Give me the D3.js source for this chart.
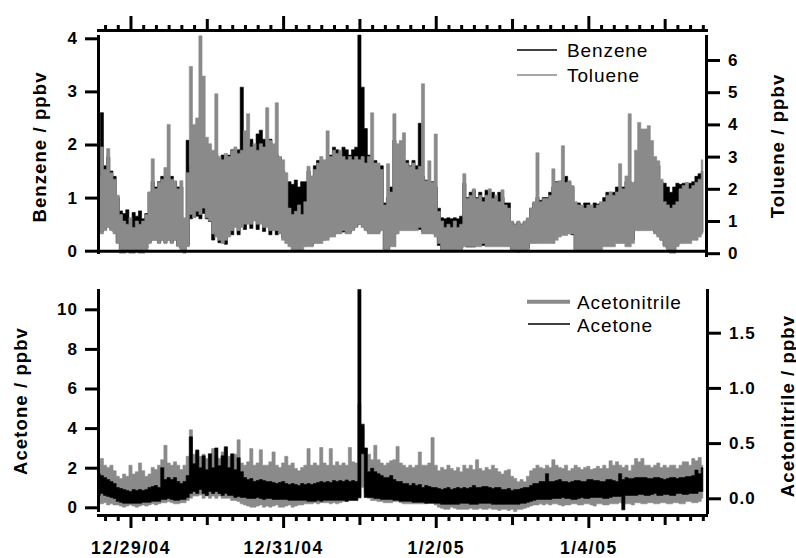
<!DOCTYPE html>
<html>
<head>
<meta charset="utf-8">
<title>Benzene, toluene, acetone and acetonitrile</title>
<script src="https://cdn.jsdelivr.net/npm/d3@7/dist/d3.min.js"></script>
<style>
  html, body { margin: 0; padding: 0; background: #fff; }
  svg { display: block; }
  .tick text, .lbl { font-family: "Liberation Sans", Arial, Helvetica, sans-serif; fill: #000; }
  .num { font-size: 17px; font-weight: bold; letter-spacing: 1px; }
  .date { font-size: 17.5px; font-weight: bold; letter-spacing: 1.5px; }
  .title { font-size: 18.5px; font-weight: bold; letter-spacing: 1.1px; }
  .legend { font-size: 19px; letter-spacing: 0.9px; }
  .axis path, .axis line { stroke: #000; stroke-width: 3; }
  .axis path { stroke-linecap: square; }
  .band { stroke-linejoin: miter; }
</style>
</head>
<body>
<svg id="chart" width="796" height="558"></svg>
<script>
// Hourly minimum / maximum of each trace, first hour 12/28/04 14:00
const startTime = new Date(2004, 11, 28, 14);
const stepHours = 1;

// Benzene, ppbv (upper panel, left axis)
const benzeneMin = [
  0.4,0.35,0.4,0.45,0.4,0.35,0.15,0.0,0.0,0.02,0.0,0.0,
  0.02,0.0,0.0,0.05,0.15,0.2,0.2,0.15,0.2,0.15,0.2,0.15,
  0.2,0.1,0.05,0.0,0.1,0.6,0.63,0.65,0.6,0.7,0.6,0.55,
  0.2,0.3,0.15,0.2,0.12,0.3,0.3,0.5,0.3,0.5,0.4,0.55,
  0.42,0.6,0.4,0.55,0.36,0.5,0.3,0.45,0.3,0.35,0.25,0.2,
  0.3,0.35,0.4,0.35,0.3,0.2,0.1,0.1,0.15,0.15,0.2,0.2,
  0.25,0.3,0.3,0.35,0.35,0.35,0.35,0.35,0.4,0.45,0.5,0.5,
  0.4,0.35,0.35,0.35,0.35,0.4,0.0,0.0,0.1,0.3,0.4,0.4,
  0.4,0.4,0.4,0.4,0.4,0.4,0.35,0.35,0.35,0.35,0.3,0.1,
  0.0,0.0,0.0,0.0,0.0,0.05,0.05,0.1,0.07,0.07,0.07,0.1,
  0.1,0.1,0.1,0.1,0.1,0.1,0.1,0.1,0.1,0.1,0.0,0.0,
  0.0,0.0,0.0,0.05,0.15,0.15,0.2,0.2,0.2,0.2,0.2,0.2,
  0.3,0.33,0.33,0.35,0.33,0.3,0.0,0.0,0.05,0.05,0.0,0.05,
  0.05,0.05,0.1,0.1,0.1,0.1,0.15,0.15,0.15,0.15,0.15,0.2,
  0.2,0.4,0.39,0.45,0.5,0.45,0.4,0.35,0.3,0.2,0.1,0.05,
  0.0,0.0,0.1,0.15,0.2,0.2,0.2,0.25,0.3,0.3,0.35
];
const benzeneMax = [
  1.5,2.6,1.6,1.76,1.5,1.4,1.0,0.75,0.7,0.77,0.6,0.72,
  0.65,0.75,0.6,0.7,1.1,1.3,1.2,1.3,1.4,1.4,1.3,1.4,
  1.3,1.2,1.2,0.6,2.08,1.6,1.5,1.5,1.6,1.5,1.5,1.5,
  1.7,1.8,1.6,1.8,1.7,1.8,1.9,1.8,1.9,3.08,1.9,2.0,
  2.1,2.0,2.2,2.27,2.1,2.0,2.1,2.0,1.8,1.76,1.5,1.3,
  1.3,1.25,1.33,1.2,1.3,1.3,1.5,1.4,1.6,1.7,1.6,1.7,
  1.7,1.8,1.95,1.9,1.8,1.95,1.9,1.8,1.9,1.95,4.06,3.08,
  2.3,1.8,1.7,1.7,1.6,1.6,0.9,1.0,1.2,2.08,2.0,1.9,
  1.7,1.7,1.6,1.7,1.6,2.4,1.4,1.33,1.3,1.3,1.2,0.8,
  0.62,0.6,0.62,0.6,0.62,0.6,0.65,1.27,1.0,1.1,1.14,1.0,
  1.1,1.0,1.14,1.0,1.1,1.0,1.1,1.0,0.9,0.9,0.54,0.5,
  0.54,0.5,0.54,0.6,0.8,0.9,1.0,0.95,1.0,1.0,1.1,1.2,
  1.3,1.3,1.33,1.4,1.3,1.2,0.9,0.9,0.85,0.9,0.9,0.85,
  0.9,0.88,0.9,1.0,1.1,1.1,1.1,1.2,1.2,1.2,1.3,1.3,
  1.2,1.3,1.3,1.4,1.3,1.35,1.3,1.5,1.6,1.3,1.27,1.2,
  1.1,1.2,1.27,1.25,1.27,1.25,1.27,1.3,1.4,1.45,1.5
];

// Toluene, ppbv (upper panel, right axis)
const tolueneMin = [
  0.7,0.6,0.7,0.8,0.7,0.6,0.3,0.0,0.0,0.05,0.0,0.0,
  0.05,0.0,0.0,0.1,0.3,0.4,0.4,0.3,0.4,0.3,0.4,0.3,
  0.4,0.2,0.1,0.0,0.2,1.2,1.1,1.3,1.2,1.4,1.1,1.0,
  0.6,0.5,0.4,0.3,0.4,0.5,0.7,0.8,0.7,0.8,0.9,0.9,
  0.9,1.0,0.9,0.9,0.8,0.8,0.7,0.7,0.7,0.6,0.4,0.3,
  0.2,0.1,0.1,0.1,0.1,0.2,0.2,0.2,0.3,0.3,0.3,0.4,
  0.4,0.5,0.5,0.6,0.6,0.7,0.6,0.6,0.7,0.8,0.9,0.8,
  0.7,0.6,0.6,0.6,0.6,0.7,0.1,0.08,0.2,0.2,0.6,0.7,
  0.7,0.7,0.7,0.7,0.7,0.8,0.6,0.6,0.6,0.6,0.5,0.3,
  0.1,0.1,0.1,0.1,0.1,0.1,0.1,0.2,0.2,0.2,0.2,0.2,
  0.2,0.3,0.2,0.2,0.2,0.2,0.2,0.2,0.2,0.2,0.1,0.05,
  0.02,0.05,0.05,0.1,0.3,0.3,0.3,0.3,0.3,0.3,0.3,0.3,
  0.4,0.5,0.55,0.55,0.6,0.6,0.1,0.1,0.1,0.1,0.1,0.1,
  0.1,0.1,0.1,0.2,0.2,0.2,0.2,0.3,0.3,0.3,0.2,0.2,
  0.3,0.7,0.7,0.7,0.7,0.7,0.7,0.6,0.5,0.4,0.2,0.1,
  0.0,0.0,0.2,0.3,0.3,0.3,0.3,0.4,0.4,0.5,0.6
];
const tolueneMax = [
  2.4,3.3,2.6,3.25,2.5,2.3,1.8,1.2,1.0,0.9,1.1,0.8,
  1.0,0.9,1.0,1.2,1.9,2.93,2.0,2.2,2.3,2.66,4.0,2.3,
  2.25,2.0,2.25,1.1,2.5,5.8,4.0,4.2,6.75,5.5,3.6,3.4,
  3.2,4.95,3.0,2.9,3.1,3.0,3.2,3.3,3.1,3.2,3.8,4.33,
  3.3,3.4,3.2,3.4,3.3,4.52,3.5,3.4,4.67,3.0,2.9,2.5,
  1.4,1.2,1.3,1.5,1.2,1.6,2.7,2.4,2.6,2.8,3.0,2.9,
  3.8,3.0,3.2,3.1,3.2,3.0,2.9,3.0,2.9,3.0,2.9,3.0,
  2.8,3.0,4.36,2.8,2.8,2.6,1.5,2.78,1.9,4.33,3.4,3.5,
  3.74,2.8,2.7,2.8,2.6,2.7,5.26,2.25,2.87,2.2,3.7,1.3,
  1.0,0.8,0.9,0.8,1.0,0.8,0.9,2.47,1.7,1.8,2.0,1.7,
  1.8,1.6,1.8,2.0,1.7,1.8,1.6,1.97,1.5,1.4,1.0,0.9,
  1.0,0.9,1.0,1.1,1.4,1.6,3.12,1.6,1.7,1.7,1.8,2.62,
  2.2,2.25,3.34,2.2,2.25,2.1,1.6,1.5,1.5,1.4,1.5,1.5,
  1.4,1.5,1.6,1.6,1.8,1.9,1.8,1.9,2.78,2.0,2.4,4.33,
  2.2,3.2,4.06,3.86,3.86,3.96,3.5,3.0,2.87,2.3,1.6,1.5,
  1.4,1.5,1.6,2.0,2.1,2.2,2.0,2.1,2.2,2.3,2.9
];

// Acetone, ppbv (lower panel, left axis)
const acetoneMin = [
  0.6,0.7,0.6,0.55,0.5,0.45,0.3,0.25,0.2,0.2,0.2,0.2,
  0.2,0.2,0.25,0.25,0.25,0.3,0.3,0.3,0.4,0.4,0.45,0.4,
  0.35,0.35,0.4,0.4,0.5,0.7,0.8,0.7,0.9,0.7,0.6,0.8,
  0.7,0.8,0.7,0.6,0.7,0.6,0.6,0.5,0.55,0.5,0.5,0.45,
  0.45,0.45,0.5,0.45,0.4,0.45,0.45,0.4,0.4,0.4,0.4,0.4,
  0.35,0.35,0.35,0.35,0.35,0.35,0.3,0.3,0.3,0.35,0.3,0.35,
  0.35,0.35,0.35,0.35,0.35,0.35,0.3,0.35,0.35,0.35,0.5,2.7,
  0.5,0.5,0.5,0.45,0.45,0.4,0.4,0.4,0.4,0.35,0.35,0.3,
  0.3,0.3,0.3,0.25,0.25,0.25,0.25,0.2,0.2,0.2,0.2,0.2,
  0.15,0.15,0.15,0.15,0.15,0.15,0.2,0.2,0.2,0.15,0.15,0.15,
  0.2,0.2,0.2,0.2,0.15,0.15,0.15,0.15,0.15,0.15,0.15,0.15,
  0.15,0.2,0.2,0.25,0.3,0.35,0.4,0.4,0.4,0.4,0.4,0.45,
  0.45,0.45,0.5,0.45,0.45,0.4,0.4,0.45,0.5,0.45,0.45,0.5,
  0.5,0.5,0.5,0.45,0.45,0.5,0.55,0.55,0.55,-0.13,0.6,0.6,
  0.6,0.6,0.65,0.65,0.6,0.6,0.65,0.7,0.6,0.6,0.65,0.65,
  0.6,0.6,0.7,0.7,0.65,0.65,0.7,0.7,0.7,0.8,0.8
];
const acetoneMax = [
  1.7,1.6,1.5,1.4,1.3,1.2,1.0,0.95,0.9,0.85,0.8,0.9,
  0.85,0.9,0.85,0.9,1.0,1.05,1.1,1.0,2.0,1.4,1.5,1.4,
  1.5,1.3,1.2,1.3,1.6,3.56,2.2,2.9,2.0,2.6,1.9,2.7,
  2.0,3.0,2.1,2.6,3.06,2.0,2.7,1.9,2.5,1.8,1.5,1.4,
  1.45,1.3,1.35,1.4,1.35,1.3,1.3,1.25,1.2,1.25,1.3,1.2,
  1.15,1.2,1.15,1.1,1.2,1.15,1.2,1.15,1.2,1.25,1.3,1.25,
  1.3,1.25,1.35,1.3,1.35,1.3,1.38,1.3,1.35,1.3,11.0,4.2,
  3.0,1.8,1.97,1.8,1.7,1.6,1.5,1.5,1.6,1.4,1.3,1.3,
  1.2,1.2,1.1,1.2,1.1,1.15,1.0,1.1,1.05,1.0,1.0,0.95,
  0.9,0.95,1.0,0.9,0.95,1.0,0.95,1.0,0.95,1.0,1.1,1.0,
  1.0,1.05,1.05,1.0,0.95,1.0,1.0,0.9,0.9,0.95,0.85,0.9,
  0.9,0.95,1.0,1.0,1.1,1.2,1.2,1.3,1.3,1.7,1.3,1.3,
  1.35,1.4,1.3,1.3,1.25,1.3,1.35,1.35,1.3,1.3,1.4,1.4,
  1.35,1.35,1.3,1.3,1.4,1.4,1.35,1.3,1.7,1.4,1.5,1.45,
  1.45,1.5,1.5,1.5,1.5,1.45,1.45,1.5,1.5,1.45,1.4,1.45,
  1.5,1.5,1.45,1.5,1.5,1.55,1.55,1.6,1.88,1.7,2.0
];

// Acetonitrile, ppbv (lower panel, right axis)
const acetonitrileMin = [
  -0.04,-0.05,-0.04,-0.06,-0.05,-0.06,-0.06,-0.07,-0.08,-0.07,-0.06,-0.07,
  -0.08,-0.07,-0.06,-0.07,-0.06,-0.05,-0.06,-0.05,-0.04,-0.04,-0.03,-0.04,
  -0.05,-0.05,-0.04,-0.04,-0.02,0.0,0.02,0.02,0.03,0.0,0.02,0.0,
  0.02,0.0,0.02,0.0,0.0,0.0,-0.02,-0.02,-0.03,-0.05,-0.06,-0.07,
  -0.08,-0.08,-0.07,-0.06,-0.08,-0.07,-0.08,-0.07,-0.06,-0.08,-0.08,-0.07,
  -0.06,-0.08,-0.07,-0.06,-0.06,-0.05,-0.05,-0.05,-0.04,-0.05,-0.04,-0.04,
  -0.04,-0.05,-0.04,-0.05,-0.04,-0.03,-0.03,-0.02,-0.02,-0.02,0.0,0.1,
  0.05,0.0,-0.02,-0.02,-0.03,-0.03,-0.04,-0.04,-0.04,-0.03,-0.03,-0.04,
  -0.05,-0.05,-0.05,-0.05,-0.05,-0.05,-0.05,-0.05,-0.04,-0.04,-0.06,-0.08,
  -0.09,-0.1,-0.1,-0.08,-0.09,-0.1,-0.1,-0.1,-0.1,-0.09,-0.1,-0.1,
  -0.09,-0.1,-0.1,-0.09,-0.1,-0.1,-0.11,-0.1,-0.1,-0.11,-0.1,-0.12,
  -0.1,-0.1,-0.09,-0.08,-0.07,-0.06,-0.06,-0.05,-0.06,-0.05,-0.06,-0.05,
  -0.05,-0.06,-0.07,-0.06,-0.06,-0.05,-0.05,-0.06,-0.06,-0.05,-0.05,-0.06,
  -0.07,-0.05,-0.05,-0.06,-0.06,-0.05,-0.05,-0.05,-0.04,-0.05,-0.05,-0.05,
  -0.06,-0.04,-0.04,-0.05,-0.05,-0.04,-0.04,-0.05,-0.05,-0.04,-0.04,-0.05,
  -0.05,-0.04,-0.04,-0.05,-0.05,-0.03,-0.03,-0.04,-0.04,-0.03,0.0
];
const acetonitrileMax = [
  0.3,0.36,0.3,0.28,0.3,0.25,0.2,0.18,0.22,0.2,0.3,0.22,
  0.24,0.32,0.25,0.2,0.22,0.28,0.26,0.3,0.35,0.48,0.32,0.3,
  0.33,0.3,0.26,0.3,0.38,0.62,0.4,0.42,0.38,0.4,0.36,0.4,
  0.45,0.38,0.36,0.42,0.45,0.38,0.36,0.4,0.53,0.32,0.3,0.33,
  0.45,0.3,0.32,0.44,0.3,0.3,0.33,0.42,0.3,0.28,0.32,0.38,
  0.3,0.32,0.27,0.25,0.28,0.3,0.45,0.3,0.32,0.3,0.46,0.32,
  0.3,0.45,0.3,0.33,0.3,0.32,0.3,0.46,0.33,0.32,0.85,0.65,
  0.45,0.4,0.35,0.48,0.35,0.32,0.3,0.32,0.34,0.35,0.47,0.32,
  0.3,0.28,0.3,0.28,0.3,0.42,0.3,0.3,0.32,0.55,0.3,0.25,
  0.28,0.26,0.3,0.27,0.25,0.28,0.24,0.3,0.27,0.3,0.26,0.35,
  0.27,0.25,0.28,0.26,0.3,0.27,0.24,0.22,0.25,0.26,0.2,0.18,
  0.15,0.17,0.15,0.2,0.25,0.27,0.3,0.28,0.27,0.3,0.28,0.35,
  0.3,0.28,0.27,0.3,0.25,0.27,0.3,0.28,0.26,0.28,0.29,0.26,
  0.27,0.29,0.27,0.3,0.27,0.34,0.3,0.33,0.3,0.28,0.3,0.25,
  0.3,0.36,0.33,0.36,0.3,0.3,0.28,0.3,0.32,0.28,0.3,0.28,
  0.3,0.3,0.27,0.3,0.33,0.33,0.3,0.36,0.34,0.37,0.3
];

const benzeneTicks = [0, 1, 2, 3, 4];
const tolueneTicks = [0, 1, 2, 3, 4, 5, 6];
const acetoneTicks = [0, 2, 4, 6, 8, 10];
const acetonitrileTicks = [0, 0.5, 1.0, 1.5];
const labelDays = [new Date(2004, 11, 29), new Date(2004, 11, 31), new Date(2005, 0, 2), new Date(2005, 0, 4)];
const dateLabels = ["12/29/04", "12/31/04", "1/2/05", "1/4/05"];

const GREY = "#8a8a8a";
const svg = d3.select("#chart");

const times = benzeneMin.map((_, i) => d3.timeHour.offset(startTime, i * stepHours));

const x = d3.scaleTime()
  .domain([new Date(2004, 11, 28, 13, 47), new Date(2005, 0, 5, 13, 0)])
  .range([98, 706]);

// linear scale fixed by two reference values, spanning the axis line
function axisScale(v0, p0, v1, p1, top, bottom) {
  const s = d3.scaleLinear().domain([v0, v1]).range([p0, p1]);
  return d3.scaleLinear().domain([s.invert(bottom), s.invert(top)]).range([bottom, top]);
}
const yBenz = axisScale(0, 250.7, 4, 38.3, 36, 252);
const yTol  = axisScale(0, 253.2, 6, 60, 36, 255);
const yAcet = axisScale(0, 507.3, 10, 309.3, 290, 510);
const yNitr = axisScale(0, 498.3, 1.5, 332.7, 290, 512);

// clipping for the traces
const defs = svg.append("defs");
defs.append("clipPath").attr("id", "clipTop")
  .append("rect").attr("x", 98).attr("y", 34).attr("width", 608).attr("height", 220);
defs.append("clipPath").attr("id", "clipBottom")
  .append("rect").attr("x", 98).attr("y", 288).attr("width", 609).attr("height", 225);

// each trace is drawn as the hour-by-hour band between its minimum and maximum
function band(clip, yScale, lo, hi, color) {
  const gen = d3.area()
    .curve(d3.curveStep)
    .x((d, i) => x(times[i]))
    .y0((d, i) => yScale(lo[i]))
    .y1((d, i) => yScale(hi[i]));
  svg.append("path")
    .attr("class", "band")
    .attr("clip-path", `url(#${clip})`)
    .attr("d", gen(lo))
    .attr("fill", color)
    .attr("stroke", color)
    .attr("stroke-width", 0.6);
}

// upper panel: benzene beneath toluene
band("clipTop", yBenz, benzeneMin, benzeneMax, "#000");
band("clipTop", yTol, tolueneMin, tolueneMax, GREY);
// lower panel: acetonitrile beneath acetone
band("clipBottom", yNitr, acetonitrileMin, acetonitrileMax, GREY);
band("clipBottom", yAcet, acetoneMin, acetoneMax, "#000");

// time ticks
const [t0, t1] = x.domain();
const isLabelDay = d => labelDays.some(l => +l === +d);
const fourHours = d3.timeHour.every(4).range(t0, t1).filter(d => d.getHours() !== 0);
const days = d3.timeDay.range(d3.timeDay.ceil(t0), t1);
const plainDays = days.filter(d => !isLabelDay(d));

function timeAxis(axisFn, yPos, ticks, size, withDomain) {
  const g = svg.append("g").attr("class", "axis").attr("transform", `translate(0,${yPos})`)
    .call(axisFn(x).tickValues(ticks).tickSize(size).tickSizeOuter(0).tickFormat(""));
  if (!withDomain) g.select(".domain").remove();
  return g;
}

// top edge of the upper panel
timeAxis(d3.axisTop, 30, fourHours, 5, true);
timeAxis(d3.axisTop, 30, plainDays, 11, false);
timeAxis(d3.axisTop, 30, labelDays, 14, false);

// baseline of the upper panel
timeAxis(d3.axisBottom, yBenz(0), [], 0, true);

// bottom edge of the lower panel
timeAxis(d3.axisBottom, 515, fourHours, 6, true);
timeAxis(d3.axisBottom, 515, plainDays, 10, false);
svg.append("g").attr("class", "axis").attr("transform", "translate(0,515)")
  .call(d3.axisBottom(x).tickValues(labelDays).tickSize(13).tickSizeOuter(0).tickPadding(14)
    .tickFormat((d, i) => dateLabels[i]))
  .call(g => g.select(".domain").remove())
  .call(g => g.selectAll("text").attr("class", "date"));

// value axes
function valueAxis(axisFn, xPos, scale, ticks, fmt, size, pad) {
  svg.append("g").attr("class", "axis").attr("transform", `translate(${xPos},0)`)
    .call(axisFn(scale).tickValues(ticks).tickSize(size).tickPadding(pad).tickSizeOuter(0).tickFormat(fmt))
    .call(g => g.selectAll("text").attr("class", "num"));
}
valueAxis(d3.axisLeft, 98, yBenz, benzeneTicks, d3.format("d"), 13, 7);
valueAxis(d3.axisRight, 706, yTol, tolueneTicks, d3.format("d"), 14, 8);
valueAxis(d3.axisLeft, 98, yAcet, acetoneTicks, d3.format("d"), 13, 7);
valueAxis(d3.axisRight, 707, yNitr, acetonitrileTicks, d3.format(".1f"), 14, 8);

// axis titles
function title(xPos, yPos, txt) {
  svg.append("text").attr("class", "lbl title")
    .attr("transform", `translate(${xPos},${yPos}) rotate(-90)`)
    .attr("text-anchor", "middle").text(txt);
}
title(45.5, 147, "Benzene / ppbv");
title(783.5, 146, "Toluene / ppbv");
title(26.5, 401, "Acetone / ppbv");
title(793.5, 406, "Acetonitrile / ppbv");

// legends
function legendItem(x1, x2, yLine, color, width, tx, ty, txt) {
  svg.append("line").attr("x1", x1).attr("x2", x2).attr("y1", yLine).attr("y2", yLine)
    .attr("stroke", color).attr("stroke-width", width);
  svg.append("text").attr("class", "lbl legend").attr("x", tx).attr("y", ty).text(txt);
}
legendItem(517, 557, 50, "#000", 1.5, 567, 57, "Benzene");
legendItem(517, 557, 75, GREY, 1.5, 567, 82, "Toluene");
legendItem(527, 570, 301.7, GREY, 4, 577, 308.5, "Acetonitrile");
legendItem(528, 570, 324, "#000", 1.5, 577, 331.5, "Acetone");
</script>
</body>
</html>
